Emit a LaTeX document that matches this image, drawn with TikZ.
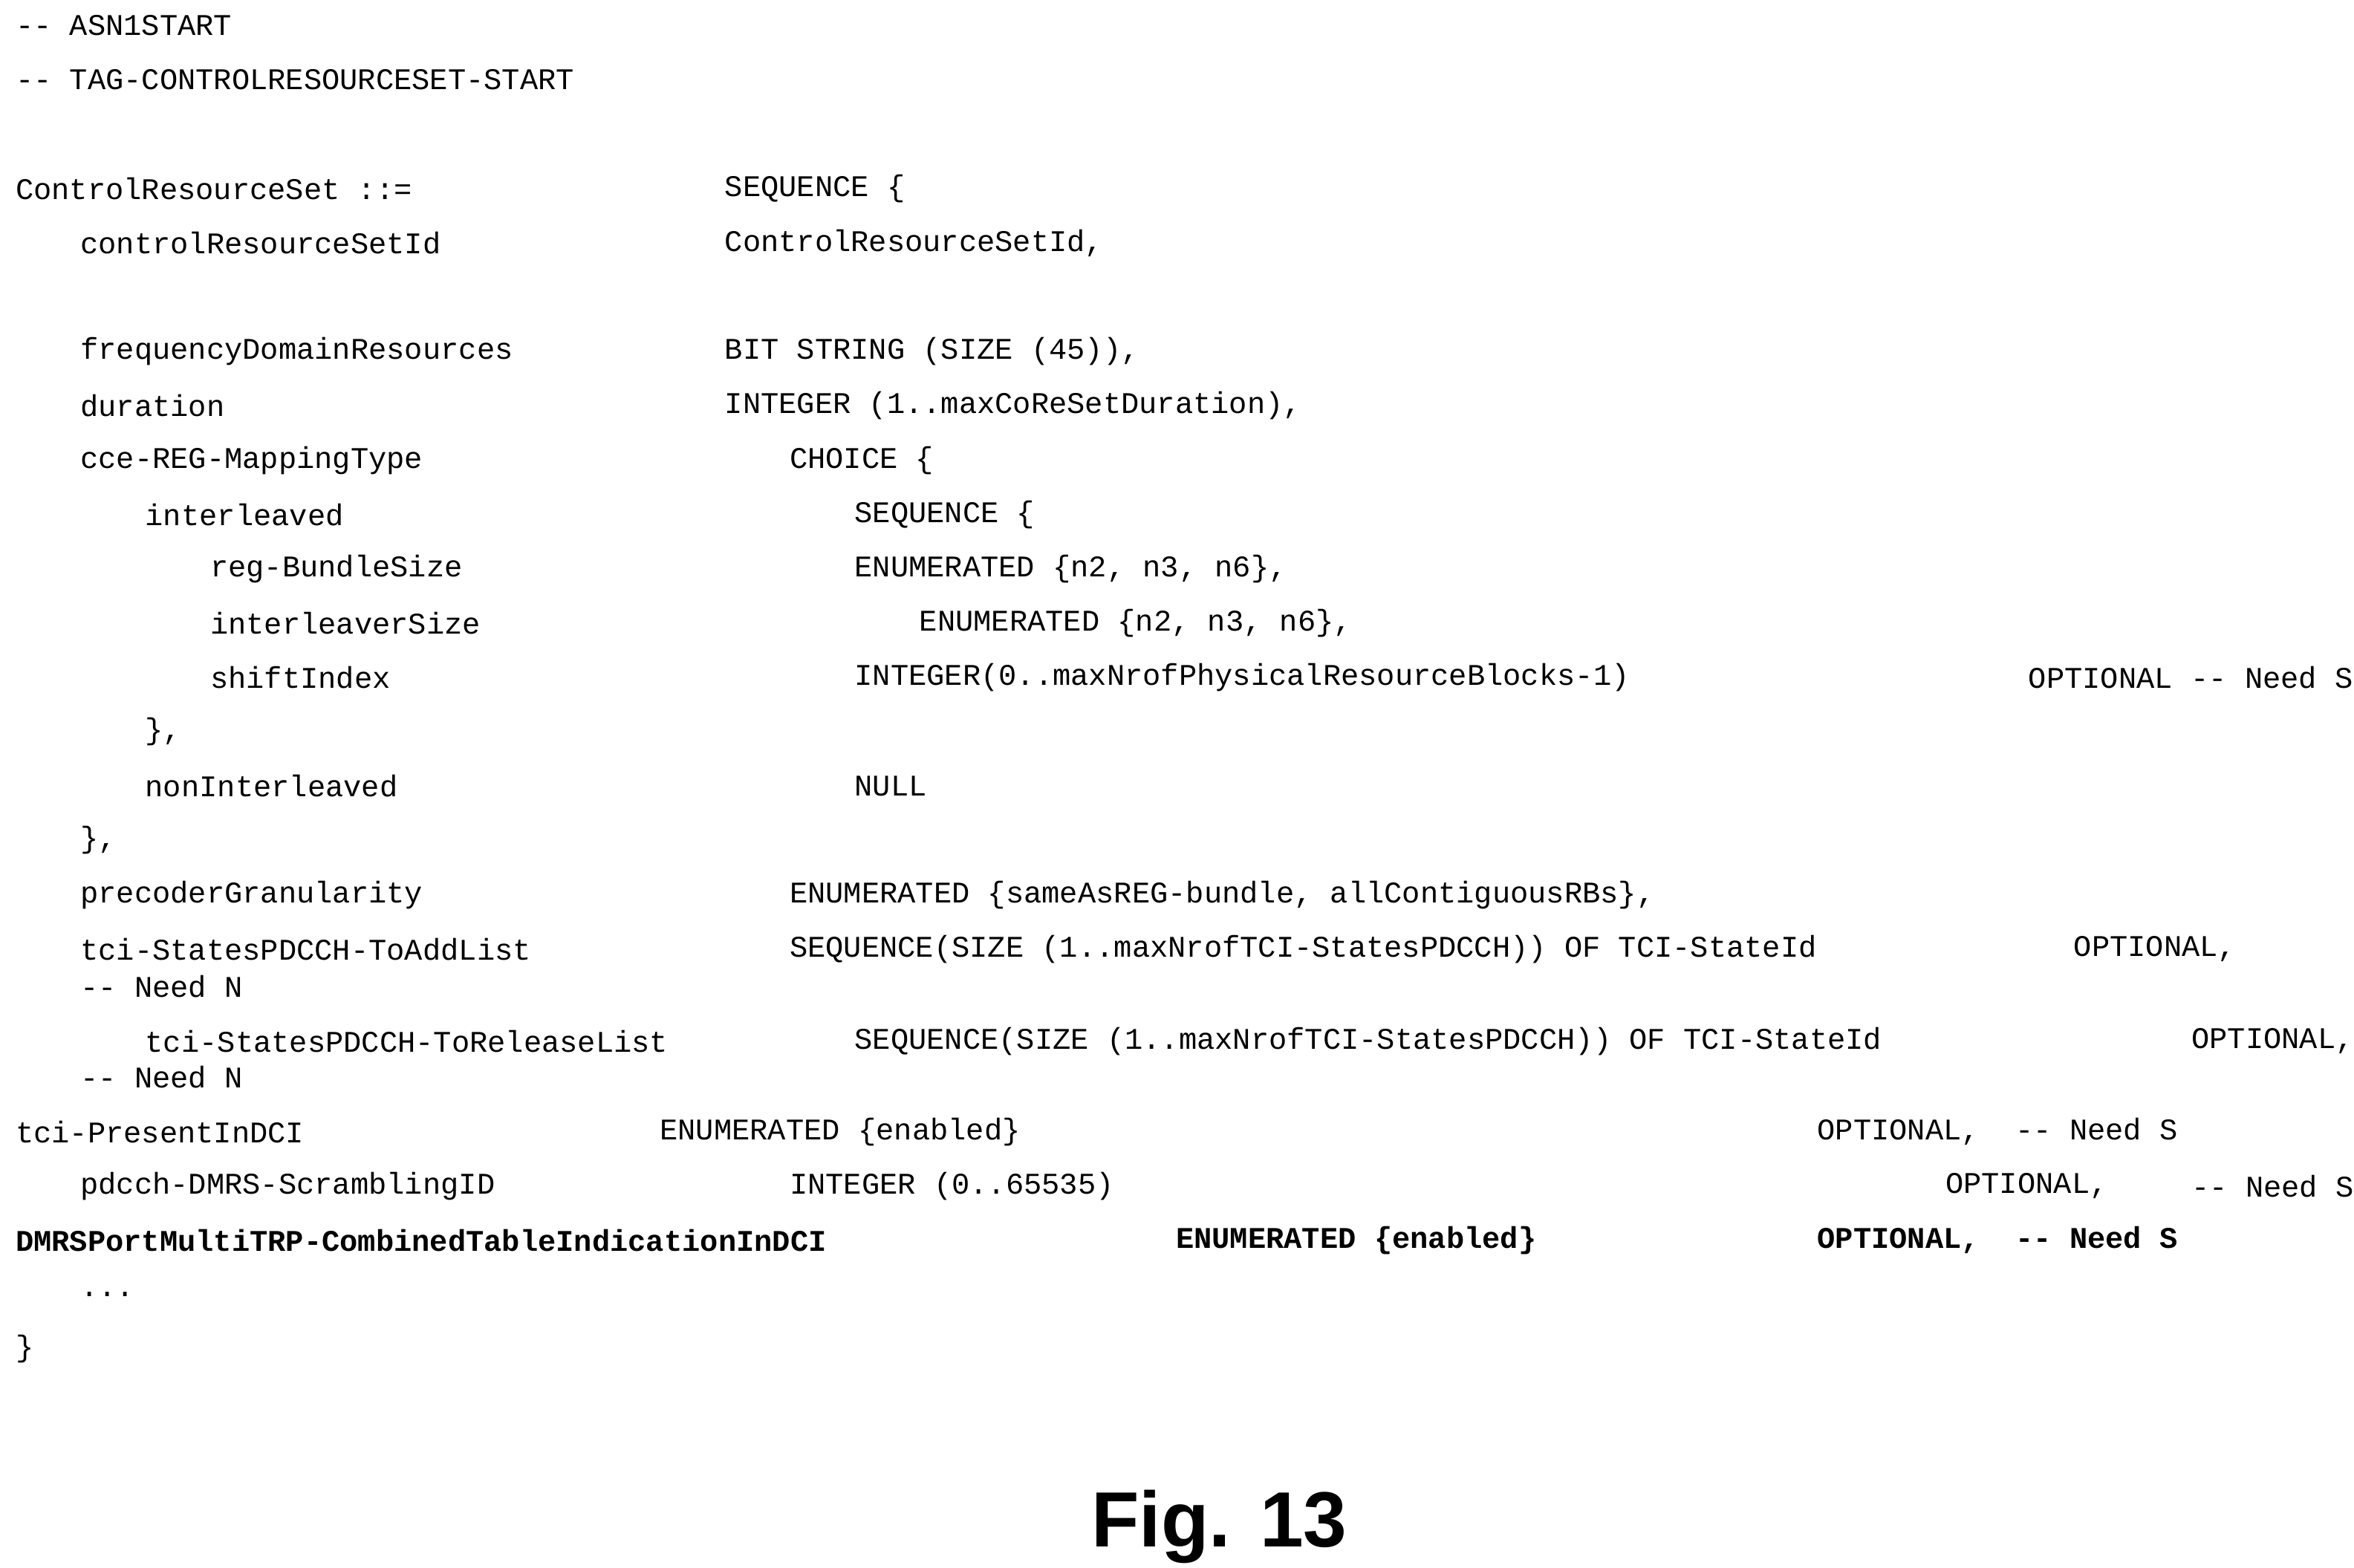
\documentclass[tikz,border=0pt]{standalone}
\usepackage{fontspec}
\setmainfont{Liberation Sans}
\setmonofont{Liberation Mono}
\usetikzlibrary{positioning}

\begin{document}
\begin{tikzpicture}[x=0.020314cm, y=-0.020314cm]
            \tikzset{code/.style={anchor=west, inner sep=0pt, font=\ttfamily\fontsize{11.5pt}{13pt}\selectfont}}
            \tikzset{codebold/.style={code, font=\ttfamily\bfseries\fontsize{11.5pt}{13pt}\selectfont}}
            \useasboundingbox (0,0) rectangle (1560,1039);

            % header
            \node[code](h1) at (10,17) {-- ASN1START};
            \node[code](h2) at (10,53) {-- TAG-CONTROLRESOURCESET-START};

            % fields
            \node[code](crs) at (10,125) {ControlResourceSet ::=};
            \node[code](crsT) at (480,125) {SEQUENCE \{};
            \node[code](id) at (53,161) {controlResourceSetId};
            \node[code](idT) at (480,161) {ControlResourceSetId,};
            \node[code](fdr) at (53,233) {frequencyDomainResources};
            \node[code](fdrT) at (480,233) {BIT STRING (SIZE (45)),};
            \node[code](dur) at (53,269) {duration};
            \node[code](durT) at (480,269) {INTEGER (1..maxCoReSetDuration),};
            \node[code](cce) at (53,305) {cce-REG-MappingType};
            \node[code](cceT) at (523,305) {CHOICE \{};
            \node[code](il) at (96,341) {interleaved};
            \node[code](ilT) at (566,341) {SEQUENCE \{};
            \node[code](reg) at (139,377) {reg-BundleSize};
            \node[code](regT) at (566,377) {ENUMERATED \{n2, n3, n6\},};
            \node[code](ils) at (139,413) {interleaverSize};
            \node[code](ilsT) at (609,413) {ENUMERATED \{n2, n3, n6\},};
            \node[code](shi) at (139,449) {shiftIndex};
            \node[code](shiT) at (566,449) {INTEGER(0..maxNrofPhysicalResourceBlocks-1)};
            \node[code](shiO) at (1344,449) {OPTIONAL -- Need S};
            \node[code](c1) at (96,485) {\},};
            \node[code](nil) at (96,521) {nonInterleaved};
            \node[code](nilT) at (566,521) {NULL};
            \node[code](c2) at (53,557) {\},};
            \node[code](pre) at (53,593) {precoderGranularity};
            \node[code](preT) at (523,593) {ENUMERATED \{sameAsREG-bundle, allContiguousRBs\},};
            \node[code](add) at (53,629) {tci-StatesPDCCH-ToAddList};
            \node[code](addT) at (523,629) {SEQUENCE(SIZE (1..maxNrofTCI-StatesPDCCH)) OF TCI-StateId};
            \node[code](addO) at (1374,629) {OPTIONAL,};
            \node[code](addN) at (53,654) {-- Need N};
            \node[code](rel) at (96,690) {tci-StatesPDCCH-ToReleaseList};
            \node[code](relT) at (566,690) {SEQUENCE(SIZE (1..maxNrofTCI-StatesPDCCH)) OF TCI-StateId};
            \node[code](relO) at (1452,690) {OPTIONAL,};
            \node[code](relN) at (53,714) {-- Need N};
            \node[code](pdci) at (10,750) {tci-PresentInDCI};
            \node[code](pdciT) at (437,750) {ENUMERATED \{enabled\}};
            \node[code](pdciO) at (1204,750) {OPTIONAL,~~-- Need S};
            \node[code](scr) at (53,786) {pdcch-DMRS-ScramblingID};
            \node[code](scrT) at (523,786) {INTEGER (0..65535)};
            \node[code](scrO) at (1289,786) {OPTIONAL,};
            \node[code](scrN) at (1452,786) {-- Need S};
            \node[codebold](dmrs) at (10,822) {DMRSPortMultiTRP-CombinedTableIndicationInDCI};
            \node[codebold](dmrsT) at (779,822) {ENUMERATED \{enabled\}};
            \node[codebold](dmrsO) at (1204,822) {OPTIONAL,~~-- Need S};
            \node[code](dots) at (53,858) {...};
            \node[code](end) at (10,894) {\}};

            % caption
            \node[font=\bfseries\fontsize{30pt}{34pt}\selectfont](fig) at (808,1012) {Fig. 13};
        \end{tikzpicture}
\end{document}
